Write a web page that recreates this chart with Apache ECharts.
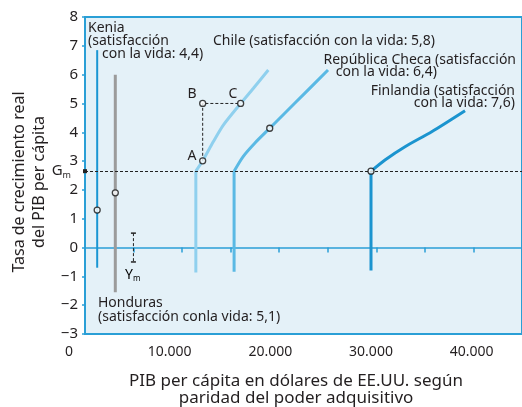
<!DOCTYPE html>
<html>
<head>
<meta charset="utf-8">
<script src="https://cdn.jsdelivr.net/npm/echarts@6/dist/echarts.min.js"></script>
<style>
html,body{margin:0;padding:0;background:#fff;}
#chart{width:522px;height:407px;}
</style>
</head>
<body>
<div id="chart"></div>
<script>
// valores (x: PIB per capita, y: tasa de crecimiento)
var kenyaLine = [[2800, -0.7], [2800, 6.85]];
var hondurasLine = [[4600, -1.55], [4600, 6.0]];
var chileStem = [[12600, -0.87], [12600, 2.65]];
var chileCurve = [[12600, 2.65], [13280, 3.01], [14330, 3.67], [15330, 4.25], [17050, 5.0], [18300, 5.52], [19800, 6.16]];
var czechStem = [[16400, -0.84], [16400, 2.65]];
var czechCurve = [[16400, 2.65], [17280, 3.15], [18450, 3.62], [19940, 4.14], [21430, 4.66], [23410, 5.35], [25730, 6.16]];
var finlandStem = [[30000, -0.8], [30000, 2.65]];
var finlandCurve = [[30000, 2.65], [31390, 3.04], [33380, 3.5], [36030, 4.02], [39340, 4.75]];
var pathABC = [[13280, 3.01], [13280, 5.0], [17050, 5.0]];
var ymRange = [[6400, 0.5], [6400, -0.5]];
var openPoints = [[2800, 1.3], [4600, 1.9], [13280, 3.01], [13280, 5.0], [17050, 5.0], [19940, 4.14], [30000, 2.65]];
var gmLevel = 2.65;
var xRange = [0, 45000];
var yRange = [-3, 8];

var font = "'Noto Sans', sans-serif";
var txt = '#231f20';
var blue = '#2a9fd6';

function fmtX(v) {
	return String(v).replace(/\B(?=(\d{3})+(?!\d))/g, '.');
}
function fmtY(v) {
	return String(v).replace('-', '\u2212');
}
function seg(data, color, width, smooth, dashed) {
	return {
		type: 'line',
		xAxisIndex: 0,
		yAxisIndex: 0,
		data: data,
		smooth: smooth ? 0.25 : false,
		showSymbol: false,
		silent: true,
		lineStyle: {color: color, width: width, type: dashed ? [3, 2] : 'solid'}
	};
}
function label(text, x, y, align, size) {
	return {
		type: 'text',
		x: x,
		y: y,
		silent: true,
		style: {
			text: text,
			font: (size || 14) + 'px ' + font,
			fill: txt,
			align: align || 'left',
			verticalAlign: 'middle',
			textAlign: align || 'left',
			textVerticalAlign: 'middle'
		}
	};
}

var myChart = echarts.init(document.getElementById('chart'));
var option = {
	animation: false,
	grid: [
		{left: 69, right: 0, top: 17, bottom: 73},
		{left: 85, right: 0, top: 17, bottom: 73, show: true, backgroundColor: '#e4f1f8', borderColor: blue, borderWidth: 2}
	],
	xAxis: [
		{
			gridIndex: 0, type: 'value', min: xRange[0], max: xRange[1], interval: 10000,
			axisLine: {show: false, onZero: false}, axisTick: {show: false}, splitLine: {show: false},
			axisLabel: {margin: 11, fontSize: 14, fontFamily: font, color: txt, showMaxLabel: false, formatter: fmtX}
		},
		{
			gridIndex: 1, type: 'value', min: 0, max: 9, interval: 1,
			axisLine: {show: true, onZero: true, lineStyle: {color: blue, width: 1.5}},
			axisTick: {show: true, inside: false, length: 5, lineStyle: {color: blue, width: 1.5}},
			axisLabel: {show: false}, splitLine: {show: false}
		}
	],
	yAxis: [
		{gridIndex: 0, type: 'value', min: yRange[0], max: yRange[1], show: false},
		{
			gridIndex: 1, type: 'value', min: yRange[0], max: yRange[1], interval: 1,
			axisLine: {show: true, lineStyle: {color: blue, width: 2}},
			axisTick: {show: true, length: 3, lineStyle: {color: blue, width: 1.5}},
			axisLabel: {margin: 7, fontSize: 15, fontFamily: font, color: txt, formatter: fmtY},
			splitLine: {show: false}
		}
	],
	series: [
		{
			type: 'line', xAxisIndex: 1, yAxisIndex: 1, data: [], silent: true,
			markLine: {
				silent: true,
				symbol: ['rect', 'none'],
				symbolSize: 4,
				lineStyle: {color: '#222', width: 1, type: [3, 2]},
				label: {
					show: true, position: 'start', distance: 14,
					formatter: '{g|G}{m|m}',
					rich: {
						g: {fontSize: 15, fontFamily: font, color: txt},
						m: {fontSize: 9, fontFamily: font, color: txt, padding: [9, 0, 0, 0]}
					}
				},
				itemStyle: {color: '#222'},
				data: [{yAxis: gmLevel}]
			}
		},
		seg(kenyaLine, '#1a96d3', 2),
		seg(hondurasLine, '#9b9b9b', 3),
		seg(chileStem, '#8fd0ee', 3),
		seg(chileCurve, '#8fd0ee', 3, true),
		seg(czechStem, '#5ab9e4', 3),
		seg(czechCurve, '#5ab9e4', 3, true),
		seg(finlandStem, '#1b94cf', 3),
		seg(finlandCurve, '#1b94cf', 3, true),
		seg(pathABC, '#222', 1, false, true),
		{
			type: 'line', xAxisIndex: 0, yAxisIndex: 0, data: ymRange, silent: true,
			symbol: 'rect', symbolSize: [5, 1.5], showSymbol: true,
			itemStyle: {color: '#222'},
			lineStyle: {color: '#222', width: 1, type: [3, 2]}
		},
		{
			type: 'scatter', xAxisIndex: 0, yAxisIndex: 0, data: openPoints, silent: true,
			symbol: 'circle', symbolSize: 6, z: 5,
			itemStyle: {color: '#fff', borderColor: '#111', borderWidth: 1.3}
		}
	],
	graphic: [
		label('Kenia', 88, 28),
		label('(satisfacción', 88, 41),
		label('con la vida: 4,4)', 102, 54),
		label('Chile (satisfacción con la vida: 5,8)', 213, 41),
		label('República Checa (satisfacción', 516, 60, 'right'),
		label('con la vida: 6,4)', 437, 72, 'right'),
		label('Finlandia (satisfacción', 515, 91, 'right'),
		label('con la vida: 7,6)', 515, 103, 'right'),
		label('Honduras', 98, 303),
		label('(satisfacción conla vida: 5,1)', 98, 317),
		label('A', 192, 156, 'center'),
		label('B', 192, 94, 'center'),
		label('C', 233, 94, 'center'),
		{
			type: 'text', x: 125, y: 267, silent: true,
			style: {
				text: '{y|Y}{m|m}',
				rich: {
					y: {fontSize: 14, fontFamily: font, color: txt},
					m: {fontSize: 8, fontFamily: font, color: txt, padding: [8, 0, 0, 0]}
				}
			}
		},
		label('PIB per cápita en dólares de EE.UU. según', 296, 381, 'center', 17),
		label('paridad del poder adquisitivo', 296, 398, 'center', 17),
		{
			type: 'group', x: 19, y: 182, rotation: Math.PI / 2,
			children: [
				label('Tasa de crecimiento real', 0, 0, 'center', 16),
				label('del PIB per cápita', 0, 20, 'center', 16)
			]
		}
	]
};
myChart.setOption(option);
</script>
</body>
</html>
